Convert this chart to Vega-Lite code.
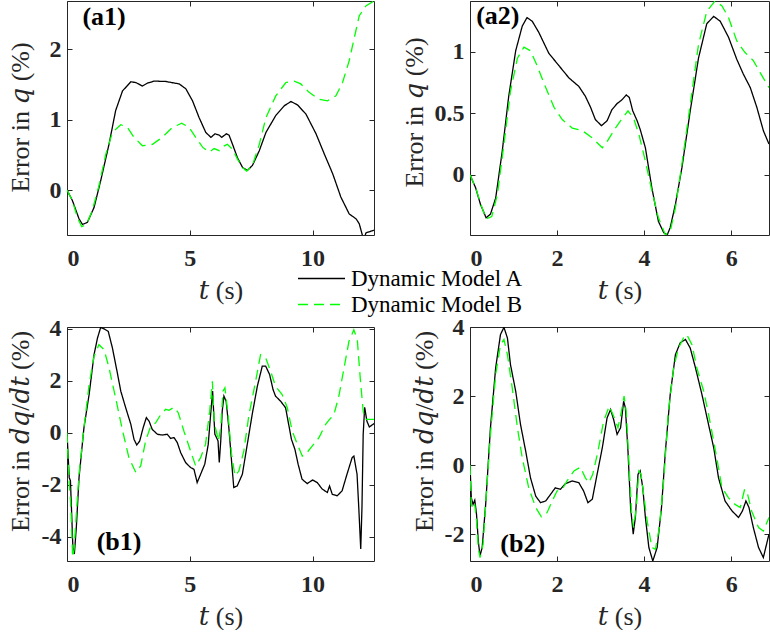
{
"$schema":"https://vega.github.io/schema/vega-lite/v6.json",
"padding":{"left":6,"top":0,"right":0,"bottom":0},
"background":"white",
"datasets":{
"a1":[
{"t":0,"v":0,"m":"A"},{"t":0.22,"v":-0.15,"m":"A"},{"t":0.49,"v":-0.41,"m":"A"},{"t":0.63,"v":-0.49,"m":"A"},{"t":0.83,"v":-0.46,"m":"A"},{"t":1.1,"v":-0.25,"m":"A"},{"t":1.37,"v":0.13,"m":"A"},{"t":1.71,"v":0.65,"m":"A"},{"t":1.98,"v":1.13,"m":"A"},{"t":2.26,"v":1.41,"m":"A"},{"t":2.6,"v":1.54,"m":"A"},{"t":2.8,"v":1.53,"m":"A"},{"t":3.07,"v":1.48,"m":"A"},{"t":3.27,"v":1.52,"m":"A"},{"t":3.55,"v":1.55,"m":"A"},{"t":4.02,"v":1.545,"m":"A"},{"t":4.57,"v":1.51,"m":"A"},{"t":4.84,"v":1.44,"m":"A"},{"t":5.11,"v":1.27,"m":"A"},{"t":5.38,"v":1.03,"m":"A"},{"t":5.65,"v":0.82,"m":"A"},{"t":5.86,"v":0.75,"m":"A"},{"t":6.03,"v":0.8,"m":"A"},{"t":6.2,"v":0.78,"m":"A"},{"t":6.3,"v":0.75,"m":"A"},{"t":6.49,"v":0.8,"m":"A"},{"t":6.6,"v":0.78,"m":"A"},{"t":6.74,"v":0.65,"m":"A"},{"t":6.94,"v":0.46,"m":"A"},{"t":7.15,"v":0.32,"m":"A"},{"t":7.35,"v":0.28,"m":"A"},{"t":7.55,"v":0.35,"m":"A"},{"t":7.83,"v":0.56,"m":"A"},{"t":8.1,"v":0.82,"m":"A"},{"t":8.5,"v":1.06,"m":"A"},{"t":8.85,"v":1.2,"m":"A"},{"t":9.12,"v":1.26,"m":"A"},{"t":9.39,"v":1.21,"m":"A"},{"t":9.73,"v":1.08,"m":"A"},{"t":10.14,"v":0.8,"m":"A"},{"t":10.48,"v":0.51,"m":"A"},{"t":10.82,"v":0.23,"m":"A"},{"t":11.15,"v":-0.1,"m":"A"},{"t":11.49,"v":-0.34,"m":"A"},{"t":11.77,"v":-0.41,"m":"A"},{"t":11.9,"v":-0.48,"m":"A"},{"t":12.04,"v":-0.66,"m":"A"},{"t":12.1,"v":-0.7,"m":"A"},{"t":12.17,"v":-0.61,"m":"A"},{"t":12.51,"v":-0.57,"m":"A"},
{"t":0,"v":0,"m":"B"},{"t":0.22,"v":-0.15,"m":"B"},{"t":0.42,"v":-0.39,"m":"B"},{"t":0.6,"v":-0.52,"m":"B"},{"t":0.79,"v":-0.49,"m":"B"},{"t":1.03,"v":-0.29,"m":"B"},{"t":1.3,"v":0.06,"m":"B"},{"t":1.58,"v":0.51,"m":"B"},{"t":1.85,"v":0.82,"m":"B"},{"t":2.19,"v":0.93,"m":"B"},{"t":2.46,"v":0.89,"m":"B"},{"t":2.73,"v":0.75,"m":"B"},{"t":3.07,"v":0.63,"m":"B"},{"t":3.48,"v":0.65,"m":"B"},{"t":3.88,"v":0.75,"m":"B"},{"t":4.29,"v":0.89,"m":"B"},{"t":4.67,"v":0.95,"m":"B"},{"t":4.97,"v":0.89,"m":"B"},{"t":5.24,"v":0.75,"m":"B"},{"t":5.52,"v":0.61,"m":"B"},{"t":5.79,"v":0.54,"m":"B"},{"t":5.99,"v":0.59,"m":"B"},{"t":6.2,"v":0.56,"m":"B"},{"t":6.36,"v":0.62,"m":"B"},{"t":6.53,"v":0.65,"m":"B"},{"t":6.74,"v":0.58,"m":"B"},{"t":6.94,"v":0.44,"m":"B"},{"t":7.15,"v":0.32,"m":"B"},{"t":7.31,"v":0.27,"m":"B"},{"t":7.55,"v":0.35,"m":"B"},{"t":7.83,"v":0.65,"m":"B"},{"t":8.1,"v":1.03,"m":"B"},{"t":8.5,"v":1.34,"m":"B"},{"t":8.91,"v":1.53,"m":"B"},{"t":9.25,"v":1.55,"m":"B"},{"t":9.52,"v":1.51,"m":"B"},{"t":9.86,"v":1.39,"m":"B"},{"t":10.27,"v":1.29,"m":"B"},{"t":10.61,"v":1.27,"m":"B"},{"t":10.95,"v":1.34,"m":"B"},{"t":11.22,"v":1.53,"m":"B"},{"t":11.49,"v":1.84,"m":"B"},{"t":11.7,"v":2.17,"m":"B"},{"t":11.9,"v":2.48,"m":"B"},{"t":12.17,"v":2.62,"m":"B"},{"t":12.5,"v":2.69,"m":"B"}
],
"a2":[
{"t":0,"v":0,"m":"A"},{"t":0.13,"v":-0.106,"m":"A"},{"t":0.24,"v":-0.24,"m":"A"},{"t":0.37,"v":-0.35,"m":"A"},{"t":0.47,"v":-0.32,"m":"A"},{"t":0.59,"v":-0.19,"m":"A"},{"t":0.74,"v":0.19,"m":"A"},{"t":0.89,"v":0.64,"m":"A"},{"t":1.05,"v":1.01,"m":"A"},{"t":1.2,"v":1.21,"m":"A"},{"t":1.31,"v":1.28,"m":"A"},{"t":1.43,"v":1.25,"m":"A"},{"t":1.58,"v":1.16,"m":"A"},{"t":1.81,"v":0.99,"m":"A"},{"t":2.04,"v":0.89,"m":"A"},{"t":2.27,"v":0.79,"m":"A"},{"t":2.5,"v":0.72,"m":"A"},{"t":2.65,"v":0.64,"m":"A"},{"t":2.77,"v":0.55,"m":"A"},{"t":2.88,"v":0.45,"m":"A"},{"t":3.02,"v":0.4,"m":"A"},{"t":3.15,"v":0.44,"m":"A"},{"t":3.26,"v":0.53,"m":"A"},{"t":3.38,"v":0.58,"m":"A"},{"t":3.49,"v":0.61,"m":"A"},{"t":3.59,"v":0.65,"m":"A"},{"t":3.66,"v":0.63,"m":"A"},{"t":3.74,"v":0.52,"m":"A"},{"t":3.84,"v":0.44,"m":"A"},{"t":3.91,"v":0.37,"m":"A"},{"t":4.03,"v":0.22,"m":"A"},{"t":4.18,"v":-0.11,"m":"A"},{"t":4.33,"v":-0.38,"m":"A"},{"t":4.45,"v":-0.47,"m":"A"},{"t":4.53,"v":-0.49,"m":"A"},{"t":4.6,"v":-0.43,"m":"A"},{"t":4.72,"v":-0.24,"m":"A"},{"t":4.87,"v":0.06,"m":"A"},{"t":5.06,"v":0.52,"m":"A"},{"t":5.25,"v":0.95,"m":"A"},{"t":5.44,"v":1.23,"m":"A"},{"t":5.6,"v":1.29,"m":"A"},{"t":5.75,"v":1.25,"m":"A"},{"t":5.94,"v":1.12,"m":"A"},{"t":6.13,"v":0.94,"m":"A"},{"t":6.28,"v":0.82,"m":"A"},{"t":6.44,"v":0.71,"m":"A"},{"t":6.59,"v":0.55,"m":"A"},{"t":6.74,"v":0.36,"m":"A"},{"t":6.87,"v":0.25,"m":"A"},
{"t":0,"v":0,"m":"B"},{"t":0.13,"v":-0.106,"m":"B"},{"t":0.24,"v":-0.23,"m":"B"},{"t":0.37,"v":-0.36,"m":"B"},{"t":0.5,"v":-0.34,"m":"B"},{"t":0.63,"v":-0.16,"m":"B"},{"t":0.78,"v":0.25,"m":"B"},{"t":0.93,"v":0.68,"m":"B"},{"t":1.09,"v":0.95,"m":"B"},{"t":1.24,"v":1.04,"m":"B"},{"t":1.39,"v":1.01,"m":"B"},{"t":1.54,"v":0.89,"m":"B"},{"t":1.74,"v":0.71,"m":"B"},{"t":1.93,"v":0.55,"m":"B"},{"t":2.12,"v":0.45,"m":"B"},{"t":2.35,"v":0.38,"m":"B"},{"t":2.58,"v":0.36,"m":"B"},{"t":2.81,"v":0.3,"m":"B"},{"t":3.04,"v":0.22,"m":"B"},{"t":3.15,"v":0.27,"m":"B"},{"t":3.34,"v":0.38,"m":"B"},{"t":3.5,"v":0.46,"m":"B"},{"t":3.63,"v":0.52,"m":"B"},{"t":3.76,"v":0.46,"m":"B"},{"t":3.88,"v":0.33,"m":"B"},{"t":4.03,"v":0.11,"m":"B"},{"t":4.18,"v":-0.13,"m":"B"},{"t":4.33,"v":-0.35,"m":"B"},{"t":4.49,"v":-0.49,"m":"B"},{"t":4.6,"v":-0.46,"m":"B"},{"t":4.72,"v":-0.27,"m":"B"},{"t":4.87,"v":0.09,"m":"B"},{"t":5.06,"v":0.57,"m":"B"},{"t":5.25,"v":1.06,"m":"B"},{"t":5.44,"v":1.33,"m":"B"},{"t":5.63,"v":1.415,"m":"B"},{"t":5.79,"v":1.375,"m":"B"},{"t":5.94,"v":1.28,"m":"B"},{"t":6.13,"v":1.09,"m":"B"},{"t":6.32,"v":0.995,"m":"B"},{"t":6.51,"v":0.93,"m":"B"},{"t":6.67,"v":0.83,"m":"B"},{"t":6.87,"v":0.71,"m":"B"}
],
"b1":[
{"t":0,"v":0,"m":"A"},{"t":0.05,"v":-0.96,"m":"A"},{"t":0.09,"v":-1.73,"m":"A"},{"t":0.14,"v":-1.85,"m":"A"},{"t":0.19,"v":-3.13,"m":"A"},{"t":0.24,"v":-4.41,"m":"A"},{"t":0.3,"v":-4.67,"m":"A"},{"t":0.38,"v":-3.64,"m":"A"},{"t":0.49,"v":-1.73,"m":"A"},{"t":0.69,"v":0.19,"m":"A"},{"t":0.9,"v":1.47,"m":"A"},{"t":1.1,"v":3.0,"m":"A"},{"t":1.24,"v":3.64,"m":"A"},{"t":1.37,"v":4.05,"m":"A"},{"t":1.51,"v":4.0,"m":"A"},{"t":1.68,"v":3.9,"m":"A"},{"t":1.85,"v":3.26,"m":"A"},{"t":2.05,"v":2.3,"m":"A"},{"t":2.19,"v":1.6,"m":"A"},{"t":2.39,"v":0.96,"m":"A"},{"t":2.6,"v":0.32,"m":"A"},{"t":2.73,"v":-0.26,"m":"A"},{"t":2.84,"v":-0.47,"m":"A"},{"t":2.96,"v":-0.32,"m":"A"},{"t":3.1,"v":0.19,"m":"A"},{"t":3.23,"v":0.58,"m":"A"},{"t":3.34,"v":0.45,"m":"A"},{"t":3.47,"v":0.13,"m":"A"},{"t":3.68,"v":-0.06,"m":"A"},{"t":3.88,"v":-0.09,"m":"A"},{"t":4.08,"v":-0.06,"m":"A"},{"t":4.22,"v":-0.22,"m":"A"},{"t":4.36,"v":-0.19,"m":"A"},{"t":4.49,"v":-0.38,"m":"A"},{"t":4.63,"v":-0.77,"m":"A"},{"t":4.83,"v":-1.15,"m":"A"},{"t":5.03,"v":-1.34,"m":"A"},{"t":5.17,"v":-1.41,"m":"A"},{"t":5.3,"v":-1.92,"m":"A"},{"t":5.44,"v":-1.6,"m":"A"},{"t":5.61,"v":-1.21,"m":"A"},{"t":5.75,"v":-0.45,"m":"A"},{"t":5.86,"v":0.83,"m":"A"},{"t":5.93,"v":1.6,"m":"A"},{"t":5.97,"v":0.83,"m":"A"},{"t":6.02,"v":-0.06,"m":"A"},{"t":6.09,"v":-0.19,"m":"A"},{"t":6.15,"v":-0.32,"m":"A"},{"t":6.2,"v":-1.15,"m":"A"},{"t":6.26,"v":-0.32,"m":"A"},{"t":6.32,"v":0.83,"m":"A"},{"t":6.39,"v":1.41,"m":"A"},{"t":6.48,"v":1.21,"m":"A"},{"t":6.59,"v":0.19,"m":"A"},{"t":6.7,"v":-1.09,"m":"A"},{"t":6.79,"v":-2.11,"m":"A"},{"t":6.93,"v":-2.05,"m":"A"},{"t":7.14,"v":-1.6,"m":"A"},{"t":7.34,"v":-0.45,"m":"A"},{"t":7.54,"v":0.7,"m":"A"},{"t":7.75,"v":1.79,"m":"A"},{"t":7.95,"v":2.56,"m":"A"},{"t":8.09,"v":2.56,"m":"A"},{"t":8.25,"v":2.24,"m":"A"},{"t":8.39,"v":1.66,"m":"A"},{"t":8.49,"v":1.41,"m":"A"},{"t":8.7,"v":1.21,"m":"A"},{"t":8.9,"v":0.96,"m":"A"},{"t":9.0,"v":0.45,"m":"A"},{"t":9.14,"v":-0.26,"m":"A"},{"t":9.28,"v":-0.64,"m":"A"},{"t":9.41,"v":-1.21,"m":"A"},{"t":9.57,"v":-1.79,"m":"A"},{"t":9.78,"v":-1.96,"m":"A"},{"t":10.0,"v":-1.82,"m":"A"},{"t":10.19,"v":-1.92,"m":"A"},{"t":10.39,"v":-2.17,"m":"A"},{"t":10.6,"v":-2.3,"m":"A"},{"t":10.69,"v":-2.05,"m":"A"},{"t":10.8,"v":-2.37,"m":"A"},{"t":11.0,"v":-2.43,"m":"A"},{"t":11.2,"v":-2.24,"m":"A"},{"t":11.4,"v":-1.6,"m":"A"},{"t":11.61,"v":-0.96,"m":"A"},{"t":11.68,"v":-0.9,"m":"A"},{"t":11.81,"v":-1.6,"m":"A"},{"t":11.88,"v":-2.88,"m":"A"},{"t":11.96,"v":-4.48,"m":"A"},{"t":12.01,"v":-2.88,"m":"A"},{"t":12.06,"v":-0.06,"m":"A"},{"t":12.12,"v":0.98,"m":"A"},{"t":12.21,"v":0.45,"m":"A"},{"t":12.31,"v":0.22,"m":"A"},{"t":12.5,"v":0.35,"m":"A"},
{"t":0,"v":0,"m":"B"},{"t":0.04,"v":-0.96,"m":"B"},{"t":0.09,"v":-1.92,"m":"B"},{"t":0.16,"v":-2.88,"m":"B"},{"t":0.23,"v":-4.8,"m":"B"},{"t":0.29,"v":-4.48,"m":"B"},{"t":0.38,"v":-3.13,"m":"B"},{"t":0.49,"v":-1.6,"m":"B"},{"t":0.69,"v":0.19,"m":"B"},{"t":0.9,"v":1.85,"m":"B"},{"t":1.1,"v":2.94,"m":"B"},{"t":1.3,"v":3.39,"m":"B"},{"t":1.51,"v":3.2,"m":"B"},{"t":1.71,"v":2.5,"m":"B"},{"t":1.98,"v":1.34,"m":"B"},{"t":2.25,"v":0.13,"m":"B"},{"t":2.52,"v":-0.96,"m":"B"},{"t":2.8,"v":-1.53,"m":"B"},{"t":3.0,"v":-1.28,"m":"B"},{"t":3.2,"v":-0.32,"m":"B"},{"t":3.41,"v":0.26,"m":"B"},{"t":3.61,"v":0.38,"m":"B"},{"t":3.82,"v":0.7,"m":"B"},{"t":4.02,"v":0.9,"m":"B"},{"t":4.15,"v":0.86,"m":"B"},{"t":4.36,"v":0.98,"m":"B"},{"t":4.53,"v":0.77,"m":"B"},{"t":4.76,"v":0.06,"m":"B"},{"t":5.03,"v":-0.7,"m":"B"},{"t":5.24,"v":-1.28,"m":"B"},{"t":5.44,"v":-0.96,"m":"B"},{"t":5.64,"v":-0.45,"m":"B"},{"t":5.81,"v":0.83,"m":"B"},{"t":5.92,"v":1.98,"m":"B"},{"t":6.0,"v":0.32,"m":"B"},{"t":6.08,"v":0.06,"m":"B"},{"t":6.16,"v":-0.32,"m":"B"},{"t":6.26,"v":0.19,"m":"B"},{"t":6.35,"v":1.6,"m":"B"},{"t":6.43,"v":1.73,"m":"B"},{"t":6.57,"v":0.58,"m":"B"},{"t":6.7,"v":-0.83,"m":"B"},{"t":6.84,"v":-1.66,"m":"B"},{"t":7.0,"v":-1.47,"m":"B"},{"t":7.2,"v":-0.7,"m":"B"},{"t":7.41,"v":0.7,"m":"B"},{"t":7.68,"v":1.98,"m":"B"},{"t":7.88,"v":3.0,"m":"B"},{"t":8.09,"v":2.88,"m":"B"},{"t":8.29,"v":2.37,"m":"B"},{"t":8.49,"v":1.79,"m":"B"},{"t":8.76,"v":1.47,"m":"B"},{"t":8.97,"v":0.96,"m":"B"},{"t":9.17,"v":0.06,"m":"B"},{"t":9.38,"v":-0.45,"m":"B"},{"t":9.58,"v":-0.9,"m":"B"},{"t":9.72,"v":-0.83,"m":"B"},{"t":9.99,"v":-0.51,"m":"B"},{"t":10.26,"v":-0.19,"m":"B"},{"t":10.53,"v":0.32,"m":"B"},{"t":10.69,"v":0.51,"m":"B"},{"t":10.87,"v":0.7,"m":"B"},{"t":11.07,"v":1.41,"m":"B"},{"t":11.28,"v":2.49,"m":"B"},{"t":11.48,"v":3.52,"m":"B"},{"t":11.68,"v":3.96,"m":"B"},{"t":11.82,"v":3.58,"m":"B"},{"t":11.95,"v":1.98,"m":"B"},{"t":12.06,"v":0.83,"m":"B"},{"t":12.15,"v":0.51,"m":"B"},{"t":12.5,"v":0.51,"m":"B"}
],
"b2":[
{"t":0,"v":0,"m":"A"},{"t":0.03,"v":-0.95,"m":"A"},{"t":0.07,"v":-1.14,"m":"A"},{"t":0.11,"v":-1.02,"m":"A"},{"t":0.15,"v":-1.43,"m":"A"},{"t":0.19,"v":-2.2,"m":"A"},{"t":0.23,"v":-2.63,"m":"A"},{"t":0.28,"v":-2.39,"m":"A"},{"t":0.36,"v":-1.14,"m":"A"},{"t":0.47,"v":1.08,"m":"A"},{"t":0.59,"v":2.82,"m":"A"},{"t":0.7,"v":3.78,"m":"A"},{"t":0.78,"v":3.99,"m":"A"},{"t":0.86,"v":3.68,"m":"A"},{"t":0.93,"v":2.91,"m":"A"},{"t":1.05,"v":2.14,"m":"A"},{"t":1.16,"v":1.18,"m":"A"},{"t":1.28,"v":0.4,"m":"A"},{"t":1.39,"v":-0.37,"m":"A"},{"t":1.51,"v":-0.9,"m":"A"},{"t":1.62,"v":-1.09,"m":"A"},{"t":1.74,"v":-1.04,"m":"A"},{"t":1.85,"v":-0.85,"m":"A"},{"t":1.96,"v":-0.66,"m":"A"},{"t":2.08,"v":-0.7,"m":"A"},{"t":2.19,"v":-0.54,"m":"A"},{"t":2.35,"v":-0.46,"m":"A"},{"t":2.5,"v":-0.51,"m":"A"},{"t":2.61,"v":-0.75,"m":"A"},{"t":2.71,"v":-1.09,"m":"A"},{"t":2.81,"v":-0.99,"m":"A"},{"t":2.92,"v":-0.27,"m":"A"},{"t":3.04,"v":0.5,"m":"A"},{"t":3.15,"v":1.37,"m":"A"},{"t":3.23,"v":1.61,"m":"A"},{"t":3.3,"v":1.32,"m":"A"},{"t":3.38,"v":0.89,"m":"A"},{"t":3.46,"v":1.08,"m":"A"},{"t":3.53,"v":1.85,"m":"A"},{"t":3.57,"v":1.66,"m":"A"},{"t":3.63,"v":0.4,"m":"A"},{"t":3.69,"v":-1.23,"m":"A"},{"t":3.75,"v":-2.0,"m":"A"},{"t":3.8,"v":-1.52,"m":"A"},{"t":3.86,"v":-0.27,"m":"A"},{"t":3.91,"v":-0.17,"m":"A"},{"t":3.97,"v":-0.66,"m":"A"},{"t":4.03,"v":-1.52,"m":"A"},{"t":4.11,"v":-2.39,"m":"A"},{"t":4.2,"v":-2.78,"m":"A"},{"t":4.3,"v":-2.39,"m":"A"},{"t":4.4,"v":-1.23,"m":"A"},{"t":4.49,"v":0.4,"m":"A"},{"t":4.6,"v":2.04,"m":"A"},{"t":4.72,"v":3.2,"m":"A"},{"t":4.83,"v":3.54,"m":"A"},{"t":4.95,"v":3.64,"m":"A"},{"t":5.06,"v":3.39,"m":"A"},{"t":5.18,"v":2.82,"m":"A"},{"t":5.33,"v":2.04,"m":"A"},{"t":5.48,"v":1.18,"m":"A"},{"t":5.6,"v":0.5,"m":"A"},{"t":5.71,"v":-0.37,"m":"A"},{"t":5.86,"v":-1.04,"m":"A"},{"t":6.02,"v":-1.33,"m":"A"},{"t":6.17,"v":-1.52,"m":"A"},{"t":6.26,"v":-1.33,"m":"A"},{"t":6.34,"v":-1.04,"m":"A"},{"t":6.41,"v":-1.23,"m":"A"},{"t":6.51,"v":-1.81,"m":"A"},{"t":6.63,"v":-2.39,"m":"A"},{"t":6.74,"v":-2.68,"m":"A"},{"t":6.87,"v":-2.0,"m":"A"},
{"t":0,"v":0,"m":"B"},{"t":0.03,"v":-1.14,"m":"B"},{"t":0.07,"v":-1.28,"m":"B"},{"t":0.11,"v":-1.14,"m":"B"},{"t":0.15,"v":-1.62,"m":"B"},{"t":0.19,"v":-2.39,"m":"B"},{"t":0.23,"v":-2.68,"m":"B"},{"t":0.3,"v":-2.3,"m":"B"},{"t":0.37,"v":-0.95,"m":"B"},{"t":0.47,"v":0.89,"m":"B"},{"t":0.59,"v":2.62,"m":"B"},{"t":0.7,"v":3.49,"m":"B"},{"t":0.78,"v":3.64,"m":"B"},{"t":0.86,"v":3.2,"m":"B"},{"t":0.97,"v":2.24,"m":"B"},{"t":1.09,"v":1.08,"m":"B"},{"t":1.2,"v":0.21,"m":"B"},{"t":1.35,"v":-0.66,"m":"B"},{"t":1.51,"v":-1.23,"m":"B"},{"t":1.64,"v":-1.5,"m":"B"},{"t":1.77,"v":-1.38,"m":"B"},{"t":1.89,"v":-1.04,"m":"B"},{"t":2.0,"v":-0.75,"m":"B"},{"t":2.12,"v":-0.7,"m":"B"},{"t":2.23,"v":-0.46,"m":"B"},{"t":2.39,"v":-0.17,"m":"B"},{"t":2.54,"v":-0.06,"m":"B"},{"t":2.65,"v":-0.37,"m":"B"},{"t":2.73,"v":-0.51,"m":"B"},{"t":2.82,"v":-0.27,"m":"B"},{"t":2.94,"v":0.4,"m":"B"},{"t":3.07,"v":1.27,"m":"B"},{"t":3.2,"v":1.71,"m":"B"},{"t":3.3,"v":1.42,"m":"B"},{"t":3.4,"v":1.08,"m":"B"},{"t":3.48,"v":1.56,"m":"B"},{"t":3.54,"v":2.0,"m":"B"},{"t":3.59,"v":1.56,"m":"B"},{"t":3.65,"v":0.12,"m":"B"},{"t":3.71,"v":-1.33,"m":"B"},{"t":3.76,"v":-1.81,"m":"B"},{"t":3.82,"v":-1.23,"m":"B"},{"t":3.88,"v":-0.17,"m":"B"},{"t":3.93,"v":-0.27,"m":"B"},{"t":3.99,"v":-0.85,"m":"B"},{"t":4.07,"v":-1.62,"m":"B"},{"t":4.18,"v":-2.39,"m":"B"},{"t":4.26,"v":-2.44,"m":"B"},{"t":4.35,"v":-1.81,"m":"B"},{"t":4.45,"v":-0.46,"m":"B"},{"t":4.56,"v":1.56,"m":"B"},{"t":4.68,"v":2.82,"m":"B"},{"t":4.79,"v":3.39,"m":"B"},{"t":4.91,"v":3.7,"m":"B"},{"t":4.98,"v":3.78,"m":"B"},{"t":5.1,"v":3.49,"m":"B"},{"t":5.21,"v":2.82,"m":"B"},{"t":5.37,"v":2.14,"m":"B"},{"t":5.52,"v":1.22,"m":"B"},{"t":5.67,"v":0.21,"m":"B"},{"t":5.79,"v":-0.66,"m":"B"},{"t":5.94,"v":-0.95,"m":"B"},{"t":6.09,"v":-1.14,"m":"B"},{"t":6.21,"v":-1.23,"m":"B"},{"t":6.31,"v":-0.7,"m":"B"},{"t":6.38,"v":-0.85,"m":"B"},{"t":6.47,"v":-1.33,"m":"B"},{"t":6.63,"v":-1.81,"m":"B"},{"t":6.74,"v":-1.91,"m":"B"},{"t":6.87,"v":-1.52,"m":"B"}
]
},
"columns":2,
"bounds":"flush",
"spacing":{"row":92,"column":96},
"concat":[
{"width":307,"height":234,
 "layer":[
  {"data":{"name":"a1"},"mark":{"type":"line","clip":true,"strokeWidth":1.3},
   "encoding":{
    "x":{"field":"t","type":"quantitative","scale":{"domain":[0,12.5],"nice":false,"zero":false},"axis":{"values":[0,5,10],"title":"𝑡 (s)"}},
    "y":{"field":"v","type":"quantitative","scale":{"domain":[-0.64,2.69],"nice":false,"zero":false},"axis":{"values":[0,1,2],"title":"Error in  𝑞 (%)","titleX":-34,"titleY":116}},
    "color":{"field":"m","type":"nominal","scale":{"domain":["A","B"],"range":["#000000","#00ff00"]},"legend":{"title":null,"labelExpr":"'Dynamic Model ' + datum.label"}},
    "strokeDash":{"field":"m","type":"nominal","scale":{"domain":["A","B"],"range":[[1,0],[10,6]]},"legend":{"title":null,"labelExpr":"'Dynamic Model ' + datum.label"}}
   }},
  {"data":{"values":[{"lab":"(a1)"}]},"mark":{"type":"text","font":"Liberation Serif","fontWeight":"bold","fontSize":26,"color":"#000000","align":"center","baseline":"middle"},
   "encoding":{
    "text":{"field":"lab"},
    "x":{"datum":1.51,"type":"quantitative","scale":{"domain":[0,12.5],"nice":false,"zero":false},"axis":{"orient":"top","values":[0,5,10],"labels":false,"title":null}},
    "y":{"datum":2.465,"type":"quantitative","scale":{"domain":[-0.64,2.69],"nice":false,"zero":false},"axis":{"orient":"right","values":[0,1,2],"labels":false,"title":null}}
   }}
 ],
 "resolve":{"axis":{"x":"independent","y":"independent"}}
},
{"width":299,"height":234,
 "layer":[
  {"data":{"name":"a2"},"mark":{"type":"line","clip":true,"strokeWidth":1.3},
   "encoding":{
    "x":{"field":"t","type":"quantitative","scale":{"domain":[0,6.87],"nice":false,"zero":false},"axis":{"values":[0,2,4,6],"title":"𝑡 (s)"}},
    "y":{"field":"v","type":"quantitative","scale":{"domain":[-0.49,1.415],"nice":false,"zero":false},"axis":{"values":[0,0.5,1],"title":"Error in  𝑞 (%)","titleX":-43,"titleY":111}},
    "color":{"field":"m","type":"nominal","scale":{"domain":["A","B"],"range":["#000000","#00ff00"]},"legend":{"title":null,"labelExpr":"'Dynamic Model ' + datum.label"}},
    "strokeDash":{"field":"m","type":"nominal","scale":{"domain":["A","B"],"range":[[1,0],[10,6]]},"legend":{"title":null,"labelExpr":"'Dynamic Model ' + datum.label"}}
   }},
  {"data":{"values":[{"lab":"(a2)"}]},"mark":{"type":"text","font":"Liberation Serif","fontWeight":"bold","fontSize":26,"color":"#000000","align":"center","baseline":"middle"},
   "encoding":{
    "text":{"field":"lab"},
    "x":{"datum":0.64,"type":"quantitative","scale":{"domain":[0,6.87],"nice":false,"zero":false},"axis":{"orient":"top","values":[0,2,4,6],"labels":false,"title":null}},
    "y":{"datum":1.289,"type":"quantitative","scale":{"domain":[-0.49,1.415],"nice":false,"zero":false},"axis":{"orient":"right","values":[0,0.5,1],"labels":false,"title":null}}
   }}
 ],
 "resolve":{"axis":{"x":"independent","y":"independent"}}
},
{"width":307,"height":234,
 "layer":[
  {"data":{"name":"b1"},"mark":{"type":"line","clip":true,"strokeWidth":1.3},
   "encoding":{
    "x":{"field":"t","type":"quantitative","scale":{"domain":[0,12.5],"nice":false,"zero":false},"axis":{"values":[0,5,10],"title":"𝑡 (s)"}},
    "y":{"field":"v","type":"quantitative","scale":{"domain":[-4.94,4.07],"nice":false,"zero":false},"axis":{"values":[-4,-2,0,2,4],"title":"Error in  𝑑𝑞/𝑑𝑡 (%)","titleX":-34,"titleY":104}},
    "color":{"field":"m","type":"nominal","scale":{"domain":["A","B"],"range":["#000000","#00ff00"]},"legend":{"title":null,"labelExpr":"'Dynamic Model ' + datum.label"}},
    "strokeDash":{"field":"m","type":"nominal","scale":{"domain":["A","B"],"range":[[1,0],[10,6]]},"legend":{"title":null,"labelExpr":"'Dynamic Model ' + datum.label"}}
   }},
  {"data":{"values":[{"lab":"(b1)"}]},"mark":{"type":"text","font":"Liberation Serif","fontWeight":"bold","fontSize":26,"color":"#000000","align":"center","baseline":"middle"},
   "encoding":{
    "text":{"field":"lab"},
    "x":{"datum":2.12,"type":"quantitative","scale":{"domain":[0,12.5],"nice":false,"zero":false},"axis":{"orient":"top","values":[0,5,10],"labels":false,"title":null}},
    "y":{"datum":-4.19,"type":"quantitative","scale":{"domain":[-4.94,4.07],"nice":false,"zero":false},"axis":{"orient":"right","values":[-4,-2,0,2,4],"labels":false,"title":null}}
   }}
 ],
 "resolve":{"axis":{"x":"independent","y":"independent"}}
},
{"width":299,"height":234,
 "layer":[
  {"data":{"name":"b2"},"mark":{"type":"line","clip":true,"strokeWidth":1.3},
   "encoding":{
    "x":{"field":"t","type":"quantitative","scale":{"domain":[0,6.87],"nice":false,"zero":false},"axis":{"values":[0,2,4,6],"title":"𝑡 (s)"}},
    "y":{"field":"v","type":"quantitative","scale":{"domain":[-2.78,4.0],"nice":false,"zero":false},"axis":{"values":[-2,0,2,4],"title":"Error in  𝑑𝑞/𝑑𝑡 (%)","titleX":-33,"titleY":104}},
    "color":{"field":"m","type":"nominal","scale":{"domain":["A","B"],"range":["#000000","#00ff00"]},"legend":{"title":null,"labelExpr":"'Dynamic Model ' + datum.label"}},
    "strokeDash":{"field":"m","type":"nominal","scale":{"domain":["A","B"],"range":[[1,0],[10,6]]},"legend":{"title":null,"labelExpr":"'Dynamic Model ' + datum.label"}}
   }},
  {"data":{"values":[{"lab":"(b2)"}]},"mark":{"type":"text","font":"Liberation Serif","fontWeight":"bold","fontSize":26,"color":"#000000","align":"center","baseline":"middle"},
   "encoding":{
    "text":{"field":"lab"},
    "x":{"datum":1.21,"type":"quantitative","scale":{"domain":[0,6.87],"nice":false,"zero":false},"axis":{"orient":"top","values":[0,2,4,6],"labels":false,"title":null}},
    "y":{"datum":-2.29,"type":"quantitative","scale":{"domain":[-2.78,4.0],"nice":false,"zero":false},"axis":{"orient":"right","values":[-2,0,2,4],"labels":false,"title":null}}
   }}
 ],
 "resolve":{"axis":{"x":"independent","y":"independent"}}
}
],
"config":{
 "view":{"stroke":"#262626","strokeWidth":1},
 "font":"Liberation Serif",
 "axis":{"domain":false,"grid":false,"tickSize":-5,"tickColor":"#262626","tickWidth":1,"labelFont":"Liberation Serif","labelFontWeight":"bold","labelFontSize":24,"labelColor":"#262626","titleFont":"Liberation Serif, DejaVu Serif","titleFontWeight":"normal","titleFontSize":26,"titleColor":"#262626","labelExpr":"'' + datum.value"},
 "axisX":{"labelPadding":16,"titlePadding":7},
 "axisY":{"labelPadding":11},
 "legend":{"orient":"none","legendX":242,"legendY":265,"symbolType":"M-2,0H2","symbolSize":552,"symbolStrokeWidth":1.3,"labelFont":"Liberation Serif","labelFontSize":23,"labelColor":"#000000","labelOffset":17,"labelLimit":400,"rowPadding":1,"padding":0}
}
}
